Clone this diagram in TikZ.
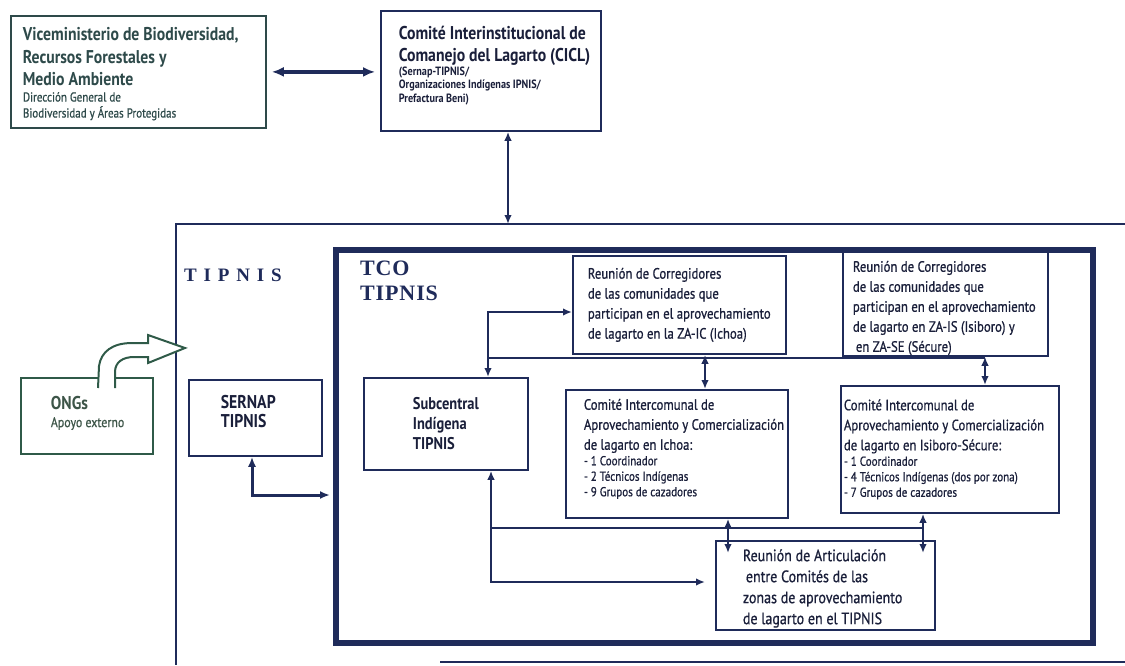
\documentclass[tikz,border=0pt]{standalone}
\usepackage{fontspec}
\setmainfont{PT Sans}
\newfontfamily\nf[FakeStretch=0.85]{PT Sans}
\newfontfamily\nr[FakeStretch=0.85,FakeBold=0.8]{PT Sans}
\newfontfamily\serA[LetterSpace=36]{Liberation Serif}
\newfontfamily\serB[LetterSpace=4]{Liberation Serif}
\usetikzlibrary{arrows.meta}
\definecolor{navy}{HTML}{1F2B5A}
\definecolor{ink}{HTML}{1A1F3A}
\definecolor{slate}{HTML}{2E4A4A}
\definecolor{dkgreen}{HTML}{2F5A48}
\definecolor{ongtext}{HTML}{3D5548}
\begin{document}
\begin{tikzpicture}[x=1pt,y=-1pt,
  box/.style={draw=navy,line width=1.8pt,rectangle,anchor=north west,align=flush left,inner ysep=0pt,text=ink},
  con/.style={draw=navy,line width=2.4pt},
  dbl/.style={con,{Latex[length=9pt,width=7.5pt]}-{Latex[length=9pt,width=7.5pt]}},
  rfont/.style={font=\nr\mdseries\fontsize{15}{20}\selectfont},
]
\useasboundingbox (0,0) rectangle (1125,665);

% top boxes
\node[box, draw=slate, text=slate, minimum width=255pt, minimum height=112pt,
  text width=231pt, inner xsep=12pt, font=\nf\bfseries\fontsize{18.5}{22.5}\selectfont] (vice) at (10,15)
  {\mbox{\rule{0pt}{17pt}Viceministerio de Biodiversidad,}\\\mbox{Recursos Forestales y}\\\mbox{Medio Ambiente}\\
   \nr\mdseries\fontsize{13}{16}\selectfont\mbox{Dirección General de}\\\mbox{Biodiversidad y Áreas Protegidas}\par};

\node[box, minimum width=220pt, minimum height=120pt, text width=184pt, inner xsep=18pt,
  font=\nf\bfseries\fontsize{18.5}{22}\selectfont] (cicl) at (380,10)
  {\mbox{Comité Interinstitucional de}\\\mbox{Comanejo del Lagarto (CICL)}\\
   \fontsize{12}{13.5}\selectfont\mbox{(Sernap-TIPNIS/}\\\mbox{Organizaciones Indígenas IPNIS/}\\\mbox{Prefactura Beni)}\par\vspace*{10pt}};

% outer TIPNIS frame
\coordinate (ftop) at (508,224);
\draw[navy, line width=1.4pt] (1125,224) -- (176,224) -- (176,665);
\draw[navy, line width=1.4pt] (440,662) -- (1125,662);
\node[font=\serA\bfseries\fontsize{19}{22}\selectfont, text=navy, anchor=west, inner sep=0pt] (tipnis) at (184,275) {TIPNIS};

% TCO frame
\node[draw=navy, line width=6pt, minimum width=757pt, minimum height=393pt, anchor=north west, inner sep=0pt] (tco) at (333,247) {};
\node[font=\serB\bfseries\fontsize{22}{25}\selectfont, text=navy, anchor=north west, align=left, inner sep=0pt] (tcol) at (360,261) {TCO\\TIPNIS};

% left boxes
\node[box, minimum width=132pt, minimum height=76pt, text width=72pt, inner xsep=30pt, text=ongtext, draw=dkgreen] (ongs) at (20,377)
  {\nf\bfseries\fontsize{18.5}{19}\selectfont ONGs\\\nr\mdseries\fontsize{14}{18}\selectfont\mbox{Apoyo externo}\par\vspace*{6pt}};
\node[box, minimum width=133pt, minimum height=76pt, text width=69pt, inner xsep=32pt,
  font=\nf\bfseries\fontsize{18.5}{19}\selectfont] (sernap) at (188,379) {SERNAP\\TIPNIS\par\vspace*{12pt}};

% inner boxes
\node[box, minimum width=164pt, minimum height=92pt, inner xsep=0pt, align=left,
  font=\nf\bfseries\fontsize{17}{20}\selectfont] (subc) at (363,377) {Subcentral\\Indígena\\TIPNIS};

\node[box, rfont, minimum width=213pt, minimum height=98pt, text width=183pt, inner xsep=15pt] (reuic) at (572,255)
  {\mbox{Reunión de Corregidores}\\\mbox{de las comunidades que}\\\mbox{participan en el aprovechamiento}\\\mbox{de lagarto en la ZA-IC (Ichoa)}};

\node[box, rfont, minimum width=205pt, minimum height=104pt, text width=185pt, inner xsep=10pt] (reuis) at (842,251)
  {\mbox{\rule{0pt}{19pt}Reunión de Corregidores}\\\mbox{de las comunidades que}\\\mbox{participan en el aprovechamiento}\\\mbox{de lagarto en ZA-IS (Isiboro) y}\\\mbox{\hspace*{3pt}en ZA-SE (Sécure)}};

\node[box, rfont, minimum width=222pt, minimum height=128pt, text width=186pt, inner xsep=18pt] (comic) at (565,389)
  {\mbox{Comité Intercomunal de}\\\mbox{Aprovechamiento y Comercialización}\\\mbox{de lagarto en Ichoa:}\\
   \fontsize{13}{15.5}\selectfont\mbox{- 1 Coordinador}\\\mbox{- 2 Técnicos Indígenas}\\\mbox{- 9 Grupos de cazadores}\par\vspace*{10pt}};

\node[box, rfont, minimum width=218pt, minimum height=127pt, text width=212pt, inner xsep=3pt] (comis) at (840,385)
  {\mbox{Comité Intercomunal de}\\\mbox{Aprovechamiento y Comercialización}\\\mbox{de lagarto en Isiboro-Sécure:}\\
   \fontsize{13}{15.5}\selectfont\mbox{- 1 Coordinador}\\\mbox{- 4 Técnicos Indígenas (dos por zona)}\\\mbox{- 7 Grupos de cazadores}\par};

\node[box, font=\nr\mdseries\fontsize{16.5}{21}\selectfont, minimum width=219pt, minimum height=89pt, text width=165pt, inner xsep=27pt] (artic) at (715,540)
  {\mbox{\rule{0pt}{18pt}Reunión de Articulación}\\\mbox{\hspace*{3pt}entre Comités de las}\\\mbox{zonas de aprovechamiento}\\\mbox{de lagarto en el TIPNIS}};

% connectors
\draw[navy, line width=3.5pt, {Latex[length=12pt,width=10pt]}-{Latex[length=12pt,width=10pt]}, shorten <=5pt, shorten >=5pt]
  (vice.east) -- (vice.east -| cicl.west);
\draw[dbl] (ftop |- cicl.south) -- (ftop);

\coordinate (sj) at (252,495);
\draw[con, line width=3pt, {Latex[length=10pt,width=8pt]}-{Latex[length=10pt,width=8pt]}, shorten >=3pt]
  (sernap.south -| sj) -- (sj) -- (tco.west |- sj);

\coordinate (k1) at (488,312);
\draw[dbl] (subc.north -| k1) -- (k1) -- (reuic.west |- k1);
\coordinate (h1) at (985,358);
\draw[con, line width=2pt] (k1 |- h1) -- (h1);
\coordinate (v1) at (705,0);
\draw[dbl] (reuic.south -| v1) -- (comic.north -| v1);
\coordinate (v2) at (985,0);
\draw[dbl] (reuis.south -| v2) -- (comis.north -| v2);

\coordinate (k2) at (491,582);
\draw[dbl, shorten >=10pt] (subc.south -| k2) -- (k2) -- (artic.west |- k2);
\coordinate (h2) at (923,528);
\draw[con, line width=2pt] (k2 |- h2) -- (h2);
\coordinate (v3) at (728,553);
\draw[dbl] (comic.south -| v3) -- (v3);
\coordinate (v4) at (923,553);
\draw[dbl] (comis.south -| v4) -- (v4);

% curved block arrow from ONGs
\filldraw[fill=white, draw=dkgreen, line width=2pt, line join=miter]
  (98,388) -- (99,366) .. controls (101,352) and (112,343) .. (132,343) -- (148,343) -- (148,335)
  -- (185,348) -- (148,363) -- (148,357) -- (134,357) .. controls (123,357) and (115,362) .. (115,372) -- (115,388);
\end{tikzpicture}
\end{document}
